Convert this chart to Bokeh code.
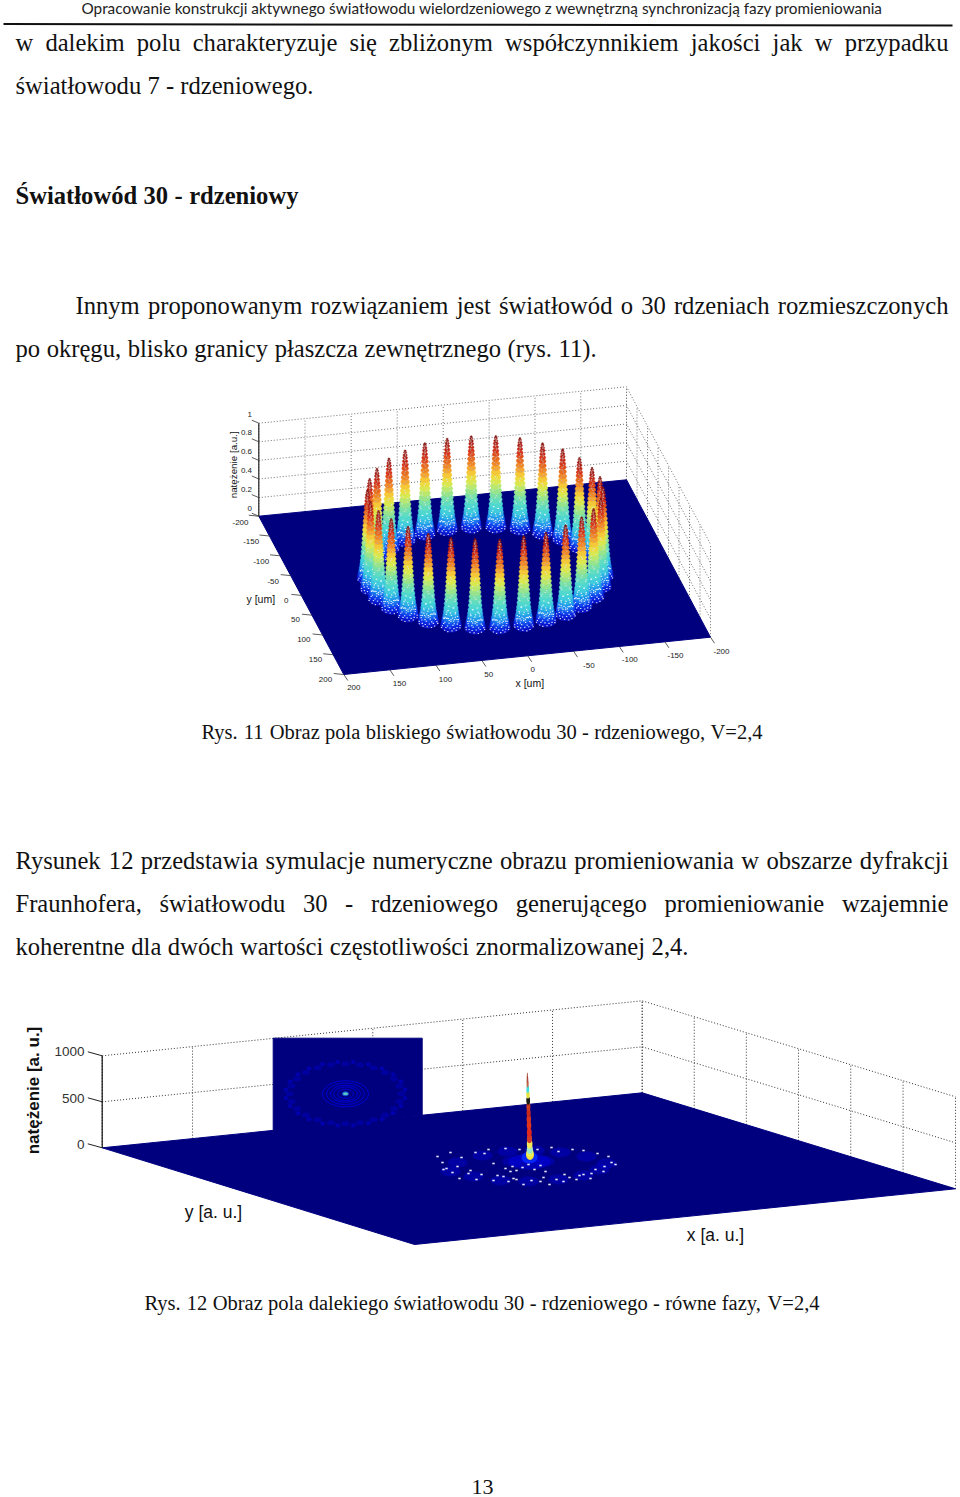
from bokeh.plotting import figure
from bokeh.embed import file_html
from bokeh.resources import INLINE
from bokeh.core.properties import value
import numpy as np

# ---------- page text ----------
header = "Opracowanie konstrukcji aktywnego światłowodu wielordzeniowego z wewnętrzną synchronizacją fazy promieniowania"
line_w = "w dalekim polu charakteryzuje się zbliżonym współczynnikiem jakości jak w przypadku"
line_s = "światłowodu 7 - rdzeniowego."
section = "Światłowód 30 - rdzeniowy"
line_i = "Innym proponowanym rozwiązaniem jest światłowód o 30 rdzeniach rozmieszczonych"
line_p = "po okręgu, blisko granicy płaszcza zewnętrznego (rys. 11)."
caption1 = "Rys. 11 Obraz pola bliskiego światłowodu 30 - rdzeniowego, V=2,4"
line_r = "Rysunek 12 przedstawia symulacje numeryczne obrazu promieniowania w obszarze dyfrakcji"
line_f = "Fraunhofera, światłowodu 30 - rdzeniowego generującego promieniowanie wzajemnie"
line_k = "koherentne dla dwóch wartości częstotliwości znormalizowanej 2,4."
caption2 = "Rys. 12 Obraz pola dalekiego światłowodu 30 - rdzeniowego - równe fazy, V=2,4"
page_no = "13"

# ---------- figure 11 data (near field) ----------
tick_um = [-200, -150, -100, -50, 0, 50, 100, 150, 200]
tick_z = [0, 0.2, 0.4, 0.6, 0.8, 1]
tick_z_labels = ["0", "0.2", "0.4", "0.6", "0.8", "1"]
core_x_um = [125, 122.3, 114.2, 101.1, 83.6, 62.5, 38.6, 13.1, -13.1, -38.6, -62.5, -83.6, -101.1, -114.2, -122.3,
             -125, -122.3, -114.2, -101.1, -83.6, -62.5, -38.6, -13.1, 13.1, 38.6, 62.5, 83.6, 101.1, 114.2, 122.3]
core_y_um = [0, 26, 50.8, 73.5, 92.9, 108.3, 118.9, 124.3, 124.3, 118.9, 108.3, 92.9, 73.5, 50.8, 26,
             0, -26, -50.8, -73.5, -92.9, -108.3, -118.9, -124.3, -124.3, -118.9, -108.3, -92.9, -73.5, -50.8, -26]
core_peak = [0.93, 0.94, 0.95, 0.95, 0.94, 0.94, 0.95, 0.94, 0.95, 0.94, 0.95, 0.95, 0.94, 0.94, 0.95,
             0.95, 0.94, 0.95, 0.96, 0.96, 0.97, 0.97, 0.97, 0.97, 0.97, 0.96, 0.96, 0.95, 0.95, 0.94]
cone_level = [0.00, 0.03, 0.06, 0.09, 0.12, 0.16, 0.20, 0.25, 0.30, 0.35, 0.40, 0.45, 0.50, 0.55, 0.60,
              0.65, 0.70, 0.75, 0.80, 0.84, 0.88, 0.92, 0.95, 0.98, 1.00]
cone_half = [10.5, 9.8, 9.2, 8.6, 8.1, 7.6, 7.2, 6.8, 6.4, 6.1, 5.8, 5.5, 5.2, 4.9, 4.6,
             4.3, 4.0, 3.7, 3.4, 3.1, 2.8, 2.5, 2.1, 1.6, 1.0]
# colours down one peak
cone_color = ["#0a14c8", "#0a28e0", "#1048ec", "#1a70f0", "#2094ec", "#30b4e4", "#40ccdc", "#50d8d0", "#60dcc0", "#78e0a8",
              "#98e48c", "#b8e870", "#d8e850", "#ecdc40", "#f4c838", "#f4a830", "#f08828", "#e86c20", "#e04c1c", "#d43418",
              "#c42414", "#b01c14", "#a01814", "#901814", "#801410"]
# mesh flecks on a peak: lateral position, depth position, fraction of height
fleck_a = [-0.9, -0.6, -0.3, 0.1, 0.5, 0.85, -0.75, -0.35, 0.2, 0.65, -0.5, 0.0, 0.4, 0.8, -0.8, -0.2, 0.3, 0.7,
           -0.6, 0.05, 0.55, -0.4, 0.3, -0.7, 0.6, -0.1, -0.5, 0.45, 0.1, -0.3, 0.35, -0.15, 0.2, -0.25, 0.15, 0.0, -0.2, 0.2]
fleck_b = [0.3, 0.7, 0.9, 0.8, 0.7, 0.35, 0.1, 0.5, 0.4, 0.2, -0.3, 0.2, -0.1, -0.1, 0.3, 0.7, 0.8, 0.5,
           0.4, 0.6, 0.3, 0.7, 0.2, 0.1, 0.1, 0.5, 0.4, 0.2, 0.6, 0.3, 0.4, 0.5, 0.2, 0.4, 0.6, 0.3, 0.4, 0.2]
fleck_l = [0.00, 0.00, 0.00, 0.00, 0.00, 0.00, 0.03, 0.03, 0.03, 0.03, 0.06, 0.06, 0.06, 0.06, 0.10, 0.10, 0.10, 0.10,
           0.15, 0.15, 0.15, 0.21, 0.21, 0.28, 0.28, 0.34, 0.42, 0.47, 0.55, 0.64, 0.70, 0.76, 0.80, 0.84, 0.88, 0.90, 0.93, 0.96]

# ---------- figure 12 data (far field) ----------
tick_au = [-3, -2, -1, 0, 1, 2, 3]
tick_i = [0, 500, 1000]
tick_i_labels = ["0", "500", "1000"]
peak_band_level = [0, 30, 60, 120, 180, 250, 330, 400, 470, 540, 610, 680, 740, 800, 850, 890]
peak_band_half = [4.0, 3.4, 3.0, 2.8, 2.6, 2.4, 2.3, 2.2, 2.1, 2.0, 1.9, 1.7, 1.4, 1.1, 0.8, 0.5]
peak_band_color = ["#f4e23c", "#e8f05a", "#9fe8c8", "#f2e85a", "#cf3a2a", "#e0281c", "#e0321c", "#d8341f", "#c8281c",
                   "#d03a20", "#171a12", "#e6e23c", "#40e0e0", "#c06a50", "#b04a3a", "#a04030"]
# bright specks around the far-field ring (px from the ring centre)
ring_dx = [-91, -86, -82, -78, -71, -67, -58, -53, -47, -40, -35, -31, -23, -18, -15, -9, 2, 9, 15, 23, 30, 36, 44, 51, 55,
           63, 69, 75, 80, 87, -85, -76, -69, -60, -52, -44, -35, -25, -20, -12, -5, 3, 12, 21, 28, 35, 41, 48, 55, 62,
           67, 76, 83, -23, -16, -12, -6, 0, 6, 12, 17]
ring_dy = [-9, -3, 3, -13, 1, -8, 5, -13, 9, -16, -2, 10, -17, 6, 13, -16, -18, -16, 12, -18, -14, 9, -16, 10, -15,
           8, -12, 6, -9, -1, 4, 7, 13, 8, 14, -12, 15, 11, 16, 14, 19, 15, 16, 19, 14, 16, 12, 14, 9, 13,
           4, 1, -3, 3, 1, 5, 2, -1, 4, 0, 6]
blob_dx = [-71, -46, -21, 6, 32, 58, 78, -78, -55, -28, 0, 30, 55, 71, -16, 16, 0]
blob_dy = [-3, -10, -14, -15, -13, -9, -2, 6, 11, 15, 16, 14, 10, 4, -4, -4, -7]
far_ring_rx = [8, 12, 15, 19, 23]
outer_ring_angle = [0, 15, 30, 45, 60, 75, 90, 105, 120, 135, 150, 165, 180, 195, 210, 225, 240, 255, 270, 285, 300, 315, 330, 345]

# ---------- styles and geometry ----------
SERIF = value("Liberation Serif")
SANS = value("Liberation Sans")
PLATE = "#00007f"
W, H = 960, 1497
p = figure(width=W, height=H, x_range=(0, W), y_range=(H, 0), output_backend="svg", toolbar_location=None,
           min_border=0, outline_line_color=None, background_fill_color="white", border_fill_color="white")
p.axis.visible = False
p.grid.visible = False

AFM = dict(zip("abcdefghijklmnopqrstuvwxyz", [444,500,444,500,444,333,500,500,278,278,500,278,778,500,500,500,500,333,389,278,500,500,722,500,500,444]))
AFM.update({"ą":444,"ć":444,"ę":444,"ł":278,"ń":500,"ó":500,"ś":389,"ź":444,"ż":444," ":250,"-":333,".":250,",":250,"(":333,")":333,"=":564,
            "R":667,"F":556,"I":333,"O":722,"V":722,"Ś":556})
for d in "0123456789":
    AFM[d] = 500
AFM_BOLD = dict(AFM)
AFM_BOLD.update({"a":500,"d":556,"e":444,"i":278,"n":556,"o":500,"r":444,"t":333,"w":722,"y":500,"z":444,"ł":278,"ó":500,"Ś":556})


def word_width(w, size, table):
    return sum(table.get(c, 500) for c in w) * size / 1000


def justified(line, x0, x1, base, size, style="normal"):
    words = line.split(" ")
    table = AFM_BOLD if style == "bold" else AFM
    widths = [word_width(w, size, table) for w in words]
    gap = (x1 - x0 - sum(widths)) / (len(words) - 1)
    xs, x = [], x0
    for w in widths:
        xs.append(x)
        x += w + gap
    p.text(xs, [base] * len(words), text=words, text_font=SERIF, text_font_size=f"{size}px", text_font_style=style,
           text_baseline="alphabetic", text_align="left", text_color="#111111")


def homography(src, dst):
    A, b = [], []
    for (u, v), (x, y) in zip(src, dst):
        A.append([u, v, 1, 0, 0, 0, -u * x, -v * x])
        A.append([0, 0, 0, u, v, 1, -u * y, -v * y])
        b += [x, y]
    h = np.linalg.solve(np.array(A, float), np.array(b, float))
    M = np.append(h, 1).reshape(3, 3)

    def f(u, v):
        u, v = np.asarray(u, float), np.asarray(v, float)
        q = M[0, 0] * u + M[0, 1] * v + M[0, 2], M[1, 0] * u + M[1, 1] * v + M[1, 2], M[2, 0] * u + M[2, 1] * v + M[2, 2]
        return q[0] / q[2], q[1] / q[2]
    return f


def labels(xs, ys, texts, size, align="center", color="#222222", angle=0.0, style="normal"):
    p.text(xs, ys, text=texts, text_font=SANS, text_font_size=f"{size}px", text_align=align, text_baseline="middle",
           text_color=color, angle=angle, text_font_style=style)


def walls(project, zscale, xticks, yticks, zticks, color, ymin, xmin, xmax, ymax):
    for xt in xticks:
        x0, y0 = project(xt, ymin)
        p.line([float(x0), float(x0)], [float(y0), float(y0) - zscale * zticks[-1]], line_color=color, line_dash="1 2", line_width=1)
    for yt in yticks:
        x0, y0 = project(xmin, yt)
        p.line([float(x0), float(x0)], [float(y0), float(y0) - zscale * zticks[-1]], line_color=color, line_dash="1 2", line_width=1)
    for zt in zticks[1:]:
        a = project(xmax, ymin)
        b = project(xmin, ymin)
        c = project(xmin, ymax)
        d = zscale * zt
        p.line([float(a[0]), float(b[0]), float(c[0])], [float(a[1]) - d, float(b[1]) - d, float(c[1]) - d],
               line_color=color, line_dash="1 2", line_width=1)


# ---------- header and text ----------
p.text([81], [7], text=[header], text_font=value("Lato"), text_font_size="15.3px", text_baseline="alphabetic", text_color="#222222")
p.line([3, 952], [23.5, 25], line_color="#111111", line_width=2)
justified(line_w, 15, 948, 42, 24.6)
justified(line_s, 15, 313, 85, 24.6)
justified(section, 15, 298, 195, 24.6, "bold")
justified(line_i, 75, 948, 305, 24.6)
justified(line_p, 15, 597, 348, 24.6)
justified(caption1, 201, 762, 731, 20.5)
justified(line_r, 15, 948, 860, 24.6)
justified(line_f, 15, 948, 903, 24.6)
justified(line_k, 15, 688, 946, 24.6)
justified(caption2, 144, 819, 1302, 20.5)
p.text([471], [1486], text=[page_no], text_font=SERIF, text_font_size="22px", text_baseline="alphabetic", text_color="#111111")

# ---------- figure 11 ----------
Z1 = 93.0
pr1 = homography([(200, -200), (-200, -200), (-200, 200), (200, 200)],
                 [(258.3, 515.7), (626, 479.3), (710, 636.7), (343.3, 674)])
walls(pr1, Z1, tick_um, tick_um, tick_z, "#707070", -200, -200, 200, 200)
cx, cy = pr1([200, -200, -200, 200], [-200, -200, 200, 200])
p.patch(list(cx), list(cy), fill_color=PLATE, line_color=PLATE)

fa = np.array(fleck_a + [-a for a in fleck_a])
fb = np.array(fleck_b + [b * 0.8 for b in fleck_b])
fl = np.array(fleck_l + [min(1.0, l + 0.018) for l in fleck_l])
order = sorted(range(len(core_x_um)), key=lambda i: float(pr1(core_x_um[i], core_y_um[i])[1]))
for i in order:
    bx, by = pr1(core_x_um[i], core_y_um[i])
    bx, by = float(bx), float(by)
    h = core_peak[i] * Z1
    ex = [bx] * len(cone_level)
    ey = [by - l * h for l in cone_level]
    ew = [2 * w for w in cone_half]
    eh = [1.3 * w for w in cone_half]
    p.ellipse(ex, ey, width=ew, height=eh, fill_color=cone_color, line_color=cone_color, line_width=0.5)
    sign = 1 if i % 2 else -1
    half = np.interp(fl, cone_level, cone_half)
    fx = bx + sign * fa * half
    fy = by - fl * h + fb * 0.65 * half
    fc = ["#ffffff" if l < 0.25 else ("#d8e8e8" if l < 0.6 else "#c8a8a0") for l in fl]
    p.rect(list(fx), list(fy), width=1.3, height=1.1, fill_color=fc, line_color=None, fill_alpha=0.85)

# axes
zx, zy = pr1(200, -200)
zx, zy = float(zx), float(zy)
p.line([zx, zx], [zy, zy - Z1], line_color="#222222", line_width=1.2)
for t in tick_z:
    p.line([zx - 7, zx], [zy - t * Z1 - 3, zy - t * Z1], line_color="#333333", line_width=0.8)
for t in tick_um:
    a, b = pr1(t, 200)
    p.line([float(a), float(a) + 4], [float(b), float(b) + 6], line_color="#333333", line_width=0.8)
    a, b = pr1(200, t)
    p.line([float(a) - 10, float(a)], [float(b) - 1, float(b)], line_color="#333333", line_width=0.8)
labels([251.5] * 6, [507.5, 489, 470, 451, 432, 413.5], tick_z_labels, 8, align="right")
labels([240, 250.7, 260.7, 272.7, 285.7, 295, 303.3, 315, 325],
       [521.7, 541, 560.7, 580.7, 600, 619.3, 638.7, 658.7, 679], [str(t) for t in tick_um], 8)
labels([721, 675, 629.3, 588.3, 532.3, 488.3, 445, 399, 353.3],
       [651, 655, 659.3, 664.7, 668.7, 674, 678.7, 682.7, 686.7],
       ["-200", "-150", "-100", "-50", "0", "50", "100", "150", "200"], 8)
labels([260.3], [598.3], ["y [um]"], 10.5, color="#111111")
labels([529.3], [682], ["x [um]"], 10.5, color="#111111")
labels([233.3], [464.3], ["natężenie [a.u.]"], 9.8, color="#111111", angle=np.pi / 2)

# ---------- figure 12 ----------
Z2 = 0.092
pr2 = homography([(-3, -3), (3, -3), (3, 3), (-3, 3)],
                 [(101.7, 1147.3), (641.7, 1092.3), (955, 1188.3), (414, 1244)])
walls(pr2, Z2, tick_au, tick_au, tick_i, "#333333", -3, 3, -3, 3)
cx, cy = pr2([-3, 3, 3, -3], [-3, -3, 3, 3])
p.patch(list(cx), list(cy), fill_color=PLATE, line_color=PLATE)

# far-field inset on the back wall
p.patch([272.7, 421.7, 421.7, 272.7], [1037.7, 1037.7, 1114.5, 1130], fill_color=PLATE, line_color=PLATE)
ins_x, ins_y = 345.0, 1093.3
for r in far_ring_rx:
    p.ellipse([ins_x], [ins_y], width=[2 * r], height=[1.14 * r], fill_color=None, line_color="#0000d0", line_width=1)
for t in outer_ring_angle:
    a = np.deg2rad(t)
    p.ellipse([ins_x + 56 * np.cos(a)], [ins_y + 30 * np.sin(a)], width=[8], height=[5], fill_color="#0000a8", line_color=None, fill_alpha=0.8)
    p.ellipse([ins_x + 60 * np.cos(a + 0.13)], [ins_y + 32 * np.sin(a + 0.13)], width=[5], height=[4], fill_color="#0000b8", line_color=None, fill_alpha=0.8)
p.ellipse([ins_x], [ins_y], width=[6], height=[4], fill_color="#58c8c0", line_color="#0a40e0", line_width=1)

# far-field pattern on the floor
cx2, cy2 = 528.0, 1165.0
p.ellipse([cx2 + d for d in blob_dx], [cy2 + d for d in blob_dy], width=[20] * len(blob_dx), height=[10] * len(blob_dx),
          fill_color="#0000d0", line_color=None, fill_alpha=0.45)
p.ellipse([cx2 + 1], [cy2 - 4], width=[42], height=[16], fill_color="#0000e0", line_color=None, fill_alpha=0.55)
p.ellipse([cx2 + 1], [cy2 - 8], width=[16], height=[12], fill_color="#0a30ff", line_color=None, fill_alpha=0.8)
p.rect([cx2 + d for d in ring_dx], [cy2 + d for d in ring_dy], width=2.4, height=1.6, fill_color="#e8e8ff", line_color=None)

# central peak
pk_x = 529.5
pk_y = 1154.0
for l, w, c in zip(peak_band_level, peak_band_half, peak_band_color):
    p.ellipse([pk_x - l * 0.003], [pk_y - l * Z2 * 0.96], width=[2 * w], height=[1.2 * w + 6], fill_color=c, line_color=None)

# axis
ax, ay = 101.7, 1147.3
p.line([ax, ax], [ay, ay - 1000 * Z2], line_color="#111111", line_width=1.2)
for t in tick_i:
    y = ay - t * Z2
    p.line([87.3, ax], [y - 4, y], line_color="#222222", line_width=1)
labels([84, 84, 84], [1143.5, 1097.5, 1051], tick_i_labels, 13.5, align="right", color="#333333")
labels([33], [1090], ["natężenie [a. u.]"], 17, color="#111111", angle=np.pi / 2, style="bold")
labels([213], [1211], ["y [a. u.]"], 17.5, color="#111111")
labels([715], [1234], ["x [a. u.]"], 17.5, color="#111111")

open("out.html", "w").write(file_html(p, INLINE))
